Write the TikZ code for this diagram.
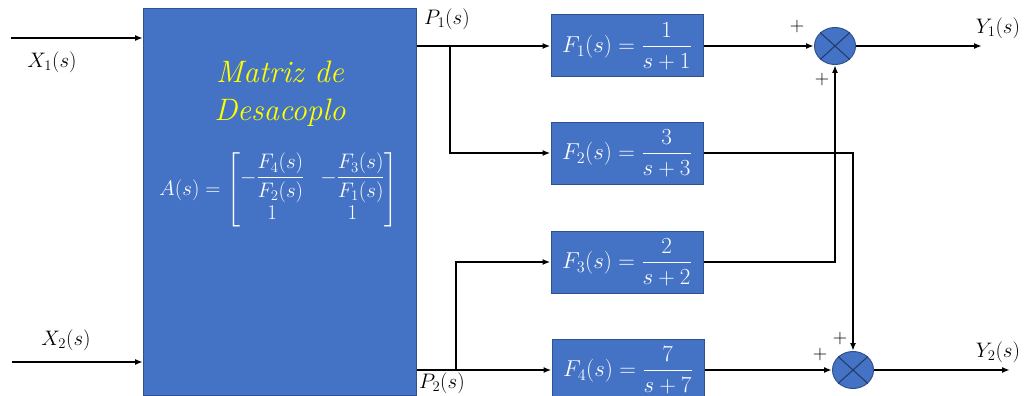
\RequirePackage{fix-cm}
\documentclass[tikz,border=0pt]{standalone}
\usepackage{amsmath}
\usetikzlibrary{arrows.meta,shapes.geometric}
\definecolor{boxblue}{HTML}{4472C4}
\definecolor{boxedge}{HTML}{2F528F}
\definecolor{titleyellow}{HTML}{FFFF00}
\begin{document}
\begin{tikzpicture}[x=1pt,y=-1pt,
  blk/.style={draw=boxedge, fill=boxblue, line width=1pt, text=white, inner sep=0pt},
  fblk/.style={blk, minimum width=152pt, minimum height=62pt, font=\fontsize{23}{26}\selectfont},
  sig/.style={line width=1.6pt, -{Latex[length=8pt,width=6pt]}},
  sumj/.style={ellipse, draw=boxedge, fill=boxblue, line width=1pt, minimum width=41pt, minimum height=37pt, inner sep=0pt},
  lbl/.style={font=\fontsize{21}{24}\selectfont, inner sep=0pt},
  plus/.style={font=\fontsize{20}{22}\selectfont, inner sep=0pt}
]
\useasboundingbox (0,0) rectangle (1026,396);
% decoupling matrix block
\node[blk, minimum width=273pt, minimum height=386pt] (A) at (280,202) {};
\node[inner sep=0pt, text=titleyellow, font=\fontsize{31}{38}\selectfont\itshape, align=center] (title) at (280,94) {Matriz de\\Desacoplo};
\node[inner sep=0pt, text=white, font=\fontsize{21}{24}\selectfont] (mat) at (279,190)
  {\setlength{\arraycolsep}{8pt}$A(s)=\begin{bmatrix}-\dfrac{F_4(s)}{F_2(s)} & -\dfrac{F_3(s)}{F_1(s)}\\[1pt] 1 & 1\end{bmatrix}$};
% F blocks
\node[fblk] (F1) at (627,46) {$F_1(s)=\dfrac{1}{s+1}$};
\node[fblk] (F2) at (627,153) {$F_2(s)=\dfrac{3}{s+3}$};
\node[fblk] (F3) at (627,262) {$F_3(s)=\dfrac{2}{s+2}$};
\node[fblk] (F4) at (628,370) {$F_4(s)=\dfrac{7}{s+7}$};
% summing junctions
\node[sumj] (S1) at (835,46) {};
\node[sumj] (S2) at (853,370) {};
\foreach \s in {S1,S2}{
  \draw[boxedge!70!black, line width=1pt] (\s.north west) -- (\s.south east);
  \draw[boxedge!70!black, line width=1pt] (\s.north east) -- (\s.south west);
}
% inputs
\coordinate (x1) at (11,38);
\coordinate (x2) at (12,362);
\draw[sig] (x1) -- (x1 -| A.west);
\draw[sig] (x2) -- (x2 -| A.west);
\node[lbl] (X1) at (52,62) {$X_1(s)$};
\node[lbl] (X2) at (66,340) {$X_2(s)$};
% P1 and P2
\draw[sig] (A.east |- F1.west) -- (F1.west);
\coordinate (b1) at (450,46);
\draw[sig] (b1) |- (F2.west);
\draw[sig] (A.east |- F4.west) -- (F4.west);
\coordinate (b2) at (456,370);
\draw[sig] (b2) |- (F3.west);
\node[lbl] (P1) at (447,19) {$P_1(s)$};
\node[lbl] (P2) at (442,383) {$P_2(s)$};
% to summing junctions
\draw[sig] (F1.east) -- (S1.west);
\draw[sig] (F3.east) -| (S1.south);
\draw[sig] (F2.east) -| (S2.north);
\draw[sig] (F4.east) -- (S2.west);
% outputs
\coordinate (y1) at (982,46);
\coordinate (y2) at (1010,370);
\draw[sig] (S1.east) -- (y1);
\draw[sig] (S2.east) -- (y2);
\node[lbl] (Y1) at (998,28) {$Y_1(s)$};
\node[lbl] (Y2) at (998,352) {$Y_2(s)$};
% signs
\node[plus] (p1) at (797,27) {$+$};
\node[plus] (p2) at (822,80) {$+$};
\node[plus] (p3) at (840,338) {$+$};
\node[plus] (p4) at (820,354) {$+$};
\end{tikzpicture}
\end{document}
